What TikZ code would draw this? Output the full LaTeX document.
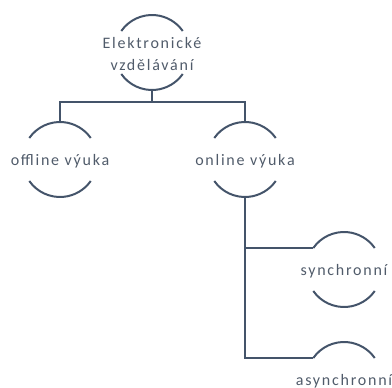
\documentclass[tikz,border=0pt]{standalone}
\usepackage{fontspec}
\setmainfont{Carlito}[LetterSpace=11]
\usetikzlibrary{positioning}

\definecolor{lineBlue}{HTML}{44546A}
\definecolor{textGray}{HTML}{505B6A}

\begin{document}
\begin{tikzpicture}[x=1pt, y=1pt,
    hub/.style={circle, minimum size=75pt, inner sep=0pt, outer sep=0pt, draw=none},
    txt/.style={font=\fontsize{16}{22}\selectfont, text=textGray, align=center, inner sep=0pt, yshift=-2pt},
    rim/.style={draw=lineBlue, line width=2pt},
    link/.style={draw=lineBlue, line width=2.6pt}]

\useasboundingbox (0,0) rectangle (392,-388);

% STATES
\node[hub, label={[txt]center:Elektronické\\vzdělávání}] (eduRoot) at (152,-52.5) {};
\node[hub, label={[txt]center:offline výuka}] (offlineEdu) at (60,-159.5) {};
\node[hub, label={[txt]center:online výuka}] (onlineEdu) at (245,-159.5) {};
\node[hub, label={[txt]center:synchronní}] (syncEdu) at (344,-269.5) {};
\node[hub, label={[txt]center:asynchronní}] (asyncEdu) at (344,-379.5) {};

% ARCS ROUND THE STATES
\foreach \n in {eduRoot, offlineEdu, onlineEdu, syncEdu, asyncEdu} {
  \draw[rim] (\n.145) arc (145:35:37.5);
  \draw[rim] (\n.-145) arc (-145:-35:37.5);
}

% STRAIGHT LINKS
\draw[link] (eduRoot.south) -- ++(0,-12) -| (offlineEdu.north);
\draw[link] (eduRoot.south) -- ++(0,-12) -| (onlineEdu.north);
\draw[link] (onlineEdu.south) |- (syncEdu.145);
\draw[link] (onlineEdu.south) |- (asyncEdu.145);

\end{tikzpicture}
\end{document}
